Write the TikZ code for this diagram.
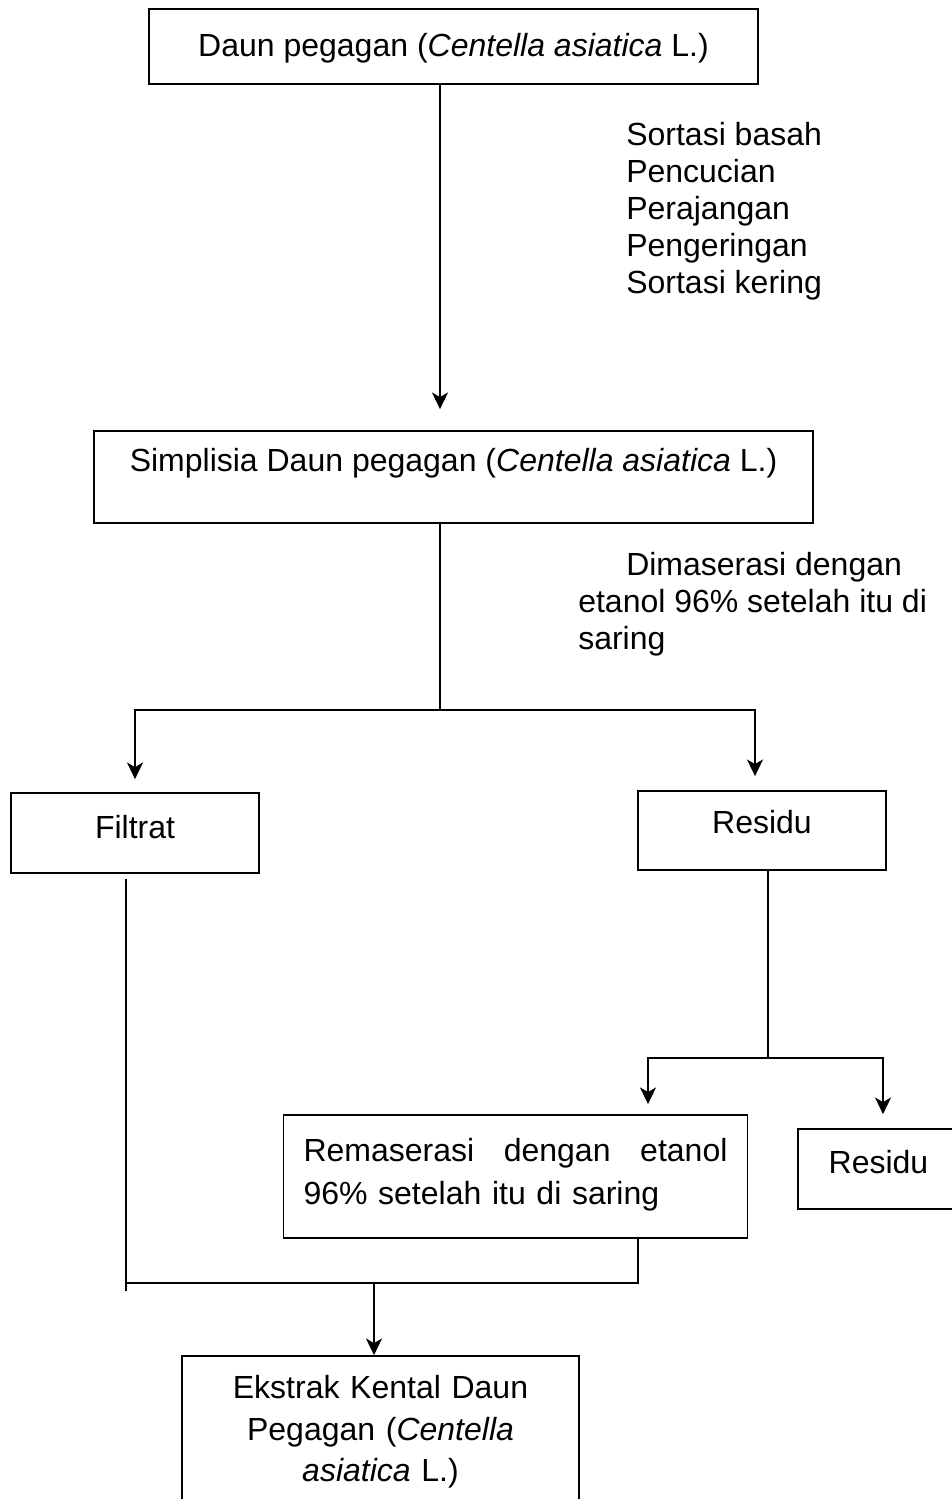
\documentclass[tikz,border=0pt]{standalone}
\usepackage{fontspec}
\setmainfont{Liberation Sans}
\usetikzlibrary{arrows.meta}

\tikzset{
  box/.style={draw, line width=1.3pt, inner sep=0pt},
  link/.style={line width=1.3pt},
  flow/.style={line width=1.3pt, -{Stealth[length=12.5pt,width=12pt,inset=3.5pt]}},
}

\begin{document}
\begin{tikzpicture}[x=0.75pt, y=-0.75pt, font=\fontsize{24pt}{27.75pt}\selectfont]
        \useasboundingbox (0,0) rectangle (952,1499);

        % Boxes
        \node[box, minimum width=456.75pt, text height=35.6pt, text depth=20.6pt] (daun) at (453.5,46.5)
            {Daun pegagan (\textit{Centella asiatica} L.)};
        \node[box, minimum width=539.25pt, text height=30.4pt, text depth=38.6pt] (simplisia) at (453.5,477)
            {Simplisia Daun pegagan (\textit{Centella asiatica} L.)};
        \node[box, minimum width=186pt, text height=34.1pt, text depth=25.9pt] (filtrat) at (135,833) {Filtrat};
        \node[box, minimum width=186pt, text height=31.9pt, text depth=27.4pt] (residu) at (762,830.5) {Residu};
        \node[box, inner xsep=15pt, text width=318pt, align=left, text height=34.9pt, text depth=57.4pt,
            font=\fontsize{24pt}{32.25pt}\selectfont] (remaserasi) at (515.5,1176.5)
            {Remaserasi\hfill dengan\hfill etanol\\96\% setelah itu di saring};
        \node[box, minimum width=120.75pt, text height=33.4pt, text depth=26.6pt] (residuB) at (878.5,1169) {Residu};
        \node[box, text width=297.75pt, align=center, text height=31.9pt, text depth=91.1pt,
            font=\fontsize{24pt}{31.1pt}\selectfont] (ekstrak) at (380.5,1438)
            {Ekstrak Kental Daun\\Pegagan (\textit{Centella}\\\textit{asiatica} L.)};

        % Step notes
        \node[inner sep=0pt, anchor=north west, align=left] (sortasi) at (626,122)
            {Sortasi basah\\Pencucian\\Perajangan\\Pengeringan\\Sortasi kering};
        \node[inner sep=0pt, anchor=north west, align=left] (maserasi) at (578,552)
            {\hspace*{36pt}Dimaserasi dengan\\etanol 96\% setelah itu di\\saring};

        % Branch points
        \coordinate (split1) at (440,710);
        \coordinate (split2) at (768,1058);
        \coordinate (joinL) at (126,1283);
        \coordinate (joinM) at (374,1283);

        % Connectors
        \draw[flow, shorten >=15.75pt] ([xshift=-10.125pt]daun.south) -- ([xshift=-10.125pt]simplisia.north);
        \draw[link] ([xshift=-10.125pt]simplisia.south) -- (split1);
        \draw[flow, shorten >=9.75pt] (split1) -| (filtrat.north);
        \draw[flow, shorten >=10.5pt] (split1) -| ([xshift=-5.25pt]residu.north);
        \draw[link] ([xshift=4.5pt]residu.south) -- (split2);
        \draw[flow, shorten >=7.5pt] (split2) -| ([xshift=99.375pt]remaserasi.north);
        \draw[flow, shorten >=10.5pt] (split2) -| ([xshift=3.375pt]residuB.north);
        \draw[link] ([xshift=-6.75pt,yshift=-3.75pt]filtrat.south) -- ([yshift=-6pt]joinL);
        \draw[link] (joinL) -| ([xshift=91.875pt]remaserasi.south);
        \draw[flow] (joinM) -- ([xshift=-4.875pt]ekstrak.north);
    \end{tikzpicture}
\end{document}
